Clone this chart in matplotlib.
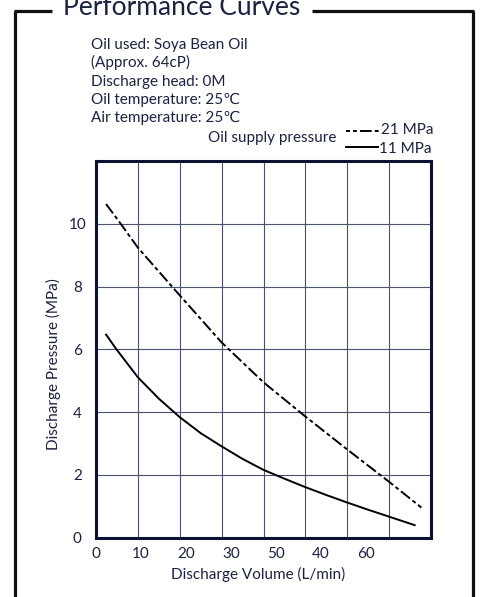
import matplotlib
matplotlib.use("Agg")
import matplotlib.pyplot as plt
from matplotlib.lines import Line2D

plt.rcParams['font.family'] = ['Lato', 'DejaVu Sans']

# curve data (x: L/min grid units, y: MPa)
vol_21 = [2.4, 5.9, 10, 20, 30, 40, 50, 60, 70, 77.7]
prs_21 = [10.63, 10.0, 9.24, 7.72, 6.22, 4.95, 3.86, 2.81, 1.78, 0.96]
vol_11 = [2.4, 5, 10, 15, 20, 25, 30, 35, 40, 45, 50, 55, 60, 65, 70, 76.1]
prs_11 = [6.47, 5.98, 5.11, 4.43, 3.84, 3.33, 2.91, 2.51, 2.16, 1.88, 1.61, 1.36, 1.12, 0.89, 0.67, 0.40]

xtick_pos = [0, 10.75, 21.5, 32.2, 43, 53.7, 64.4]
xtick_lab = ['0', '10', '20', '30', '50', '40', '60']
ytick_pos = [0, 2, 4, 6, 8, 10]

notes = ["Oil used: Soya Bean Oil", "(Approx. 64cP)", "Discharge head: 0M",
         "Oil temperature: 25\u2103", "Air temperature: 25\u2103"]

W, H = 481, 597
navy = '#1b2240'
fig = plt.figure(figsize=(W / 100, H / 100), dpi=100)

# overlay in pixel coordinates for frame / notes
ov = fig.add_axes([0, 0, 1, 1])
ov.set_xlim(0, W)
ov.set_ylim(H, 0)
ov.axis('off')

ax = fig.add_axes([96 / W, 1 - 537.7 / H, 335 / W, 376.7 / H])
ax.set_xlim(0, 80)
ax.set_ylim(0, 12)
ax.set_xticks(range(0, 81, 10), minor=True)
ax.set_xticks(xtick_pos, xtick_lab)
ax.set_yticks(ytick_pos + [12], [str(v) for v in ytick_pos] + [''])
ax.xaxis.grid(True, which='minor', color='#4a526e', lw=0.8)
ax.yaxis.grid(True, which='major', color='#4a526e', lw=0.8)
ax.tick_params(which='both', length=0)
ax.tick_params(axis='x', pad=7, labelsize=11, labelcolor=navy)
ax.tick_params(axis='y', pad=13.5, labelsize=11, labelcolor=navy)
for lab in ax.get_yticklabels():
    lab.set_ha('center')
for sp in ax.spines.values():
    sp.set_linewidth(2.2)
    sp.set_color('#0b1232')
    sp.set_zorder(3)

ax.plot(vol_21, prs_21, color='black', lw=1.4, ls=(0, (6, 1.6, 2, 1.6)))
ax.plot(vol_11, prs_11, color='black', lw=1.4)

ax.set_xlabel("Discharge Volume (L/min)", fontsize=11, color=navy)
ax.set_ylabel("Discharge Pressure (MPa)", fontsize=11, color=navy, labelpad=5)
ax.xaxis.set_label_coords(0.485, -0.077)
ax.yaxis.label.set_y(0.46)

# outer frame with title gap
fk = dict(color='#111111', lw=2.3, solid_capstyle='butt')
ov.add_line(Line2D([15, 15], [11, H + 5], **fk))
ov.add_line(Line2D([473, 473], [11, H + 5], **fk))
ov.add_line(Line2D([14, 52], [11, 11], **fk))
ov.add_line(Line2D([312, 474], [11, 11], **fk))
ov.text(63, 15, "Performance Curves", fontsize=19, color=navy, va='baseline', ha='left')

for i, s in enumerate(notes):
    ov.text(90.7, 49 + i * 18.3, s, fontsize=11, color=navy, va='baseline', ha='left')

ov.text(336.7, 141.7, "Oil supply pressure", fontsize=11, color=navy, va='baseline', ha='right')
ov.add_line(Line2D([345.7, 379], [130.7, 130.7], color='black', lw=1.4, ls=(0, (2, 1.6, 2, 1.6, 6, 1.6))))
ov.add_line(Line2D([345.7, 378], [146.7, 146.7], color='black', lw=1.4))
ov.text(380.7, 130, "21 MPa", fontsize=11, color=navy, va='center', ha='left')
ov.text(379, 149, "11 MPa", fontsize=11, color=navy, va='center', ha='left')

fig.savefig("out.png", dpi=100)
